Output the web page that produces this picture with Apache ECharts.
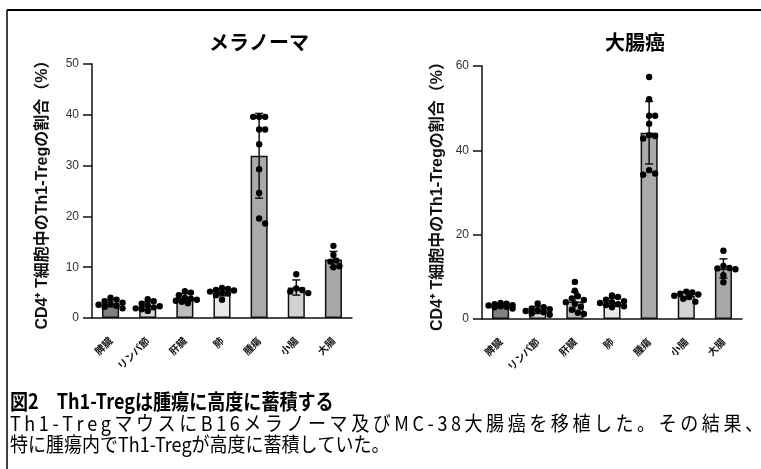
<!DOCTYPE html>
<html><head><meta charset="utf-8">
<script src="https://cdn.jsdelivr.net/npm/echarts@6/dist/echarts.min.js"></script>
<style>html,body{margin:0;padding:0;background:#fff}#c{width:761px;height:469px}</style>
</head><body><div id="c"></div><script>
// ---------- data ----------
const tissues = ['脾臓', 'リンパ節', '肝臓', '肺', '腫瘍', '小腸', '大腸'];
const melanomaTitle = 'メラノーマ';
const colonTitle = '大腸癌';
const yAxisName = 'CD4⁺ T細胞中のTh1-Tregの割合（%）';
const melanomaTicks = [0, 10, 20, 30, 40, 50];
const colonTicks = [0, 20, 40, 60];

// melanoma: individual mice (%)
const melSpleen = [1.9, 2.2, 2.4, 2.6, 2.8, 3.0, 3.3, 3.6, 4.0];
const melLymph  = [1.4, 1.7, 1.9, 2.1, 2.3, 2.5, 2.8, 3.3, 3.7];
const melLiver  = [2.9, 3.2, 3.4, 3.6, 3.8, 4.0, 4.5, 5.0, 5.3];
const melLung   = [3.6, 4.5, 4.8, 5.0, 5.2, 5.4, 5.5, 5.7, 5.9];
const melTumor  = [39.6, 39.6, 39.6, 37.1, 37.1, 34.2, 29.3, 24.6, 19.6, 18.6];
const melSmall  = [8.6, 5.8, 5.5, 5.2, 4.9];
const melLarge  = [14.2, 12.4, 11.3, 11.1, 10.2, 10.0];

// colon cancer: individual mice (%)
const colSpleen = [2.5, 2.8, 2.9, 3.0, 3.2, 3.3, 3.5, 3.6, 3.8];
const colLymph  = [1.0, 1.3, 1.6, 1.9, 2.1, 2.3, 2.5, 2.8, 3.7];
const colLiver  = [8.8, 6.7, 5.4, 4.9, 4.5, 4.0, 3.6, 2.9, 2.2, 1.5, 1.2];
const colLung   = [2.8, 3.0, 3.3, 3.5, 3.8, 4.0, 4.2, 4.6, 5.2, 5.6];
const colTumor  = [57.4, 52.1, 48.2, 48.2, 46.3, 43.6, 43.4, 42.8, 35.3, 34.5, 34.2];
const colSmall  = [4.1, 4.8, 5.2, 5.5, 5.8, 6.0, 6.3, 6.5];
const colLarge  = [16.2, 12.6, 12.0, 11.8, 12.1, 10.4, 8.7];

const captionTitle = '図2　Th1-Tregは腫瘍に高度に蓄積する';
const captionLine1 = 'Th1-TregマウスにB16メラノーマ及びMC-38大腸癌を移植した。その結果、';
const captionLine2 = '特に腫瘍内でTh1-Tregが高度に蓄積していた。';

// ---------- styling ----------
const barColors = ['#808080', '#d6d6d6', '#bdbdbd', '#e8e8e8', '#aaaaaa', '#d2d2d2', '#a8a8a8'];
const LATIN = "'Liberation Sans', 'Noto Sans CJK JP', sans-serif";
const CJK = "'Noto Sans CJK JP', sans-serif";
const CAPTION_FONT = "20px 'Noto Sans CJK JP'";
const CAPTION_SX = 0.9;

const melGroups = [melSpleen, melLymph, melLiver, melLung, melTumor, melSmall, melLarge];
const colGroups = [colSpleen, colLymph, colLiver, colLung, colTumor, colSmall, colLarge];

const mean = a => a.reduce((s, v) => s + v, 0) / a.length;
const sd = a => { const m = mean(a); return Math.sqrt(a.reduce((s, v) => s + (v - m) * (v - m), 0) / (a.length - 1)); };

function swarm(ys) {
  const order = ys.map((y, i) => i).sort((a, b) => ys[a] - ys[b]);
  const off = new Array(ys.length).fill(0);
  const placed = [];
  const minD = 6, step = 3;
  order.forEach(i => {
    let best = 0, bestPen = Infinity;
    for (let k = 0; k < 9; k++) {
      const dx = (k % 2 ? 1 : -1) * Math.ceil(k / 2) * step;
      let pen = 0;
      placed.forEach(j => { const d = Math.hypot(dx - off[j], ys[i] - ys[j]); if (d < minD) pen += minD - d; });
      if (pen < 1e-9) { best = dx; bestPen = 0; break; }
      if (pen < bestPen) { bestPen = pen; best = dx; }
    }
    off[i] = best; placed.push(i);
  });
  return off;
}

function dotRenderer(groups) {
  return function (params, api) {
    const cat = api.value(0), idx = api.value(2);
    const pts = groups[cat];
    const layout = swarm(pts.map(v => api.coord([cat, v])[1]));
    const c = api.coord([cat, pts[idx]]);
    return { type: 'circle', shape: { cx: c[0] + layout[idx], cy: c[1], r: 3.2 }, style: { fill: '#000' } };
  };
}

function errRender(params, api) {
  const x = api.value(0), m = api.value(1), s = api.value(2);
  const top = api.coord([x, m + s]), bot = api.coord([x, Math.max(0, m - s)]);
  const hw = 4, st = { stroke: '#111', lineWidth: 1.5 };
  return { type: 'group', children: [
    { type: 'line', shape: { x1: top[0], y1: top[1], x2: bot[0], y2: bot[1] }, style: st },
    { type: 'line', shape: { x1: top[0] - hw, y1: top[1], x2: top[0] + hw, y2: top[1] }, style: st },
    { type: 'line', shape: { x1: bot[0] - hw, y1: bot[1], x2: bot[0] + hw, y2: bot[1] }, style: st }
  ] };
}

function xAxisFor(gi) {
  return {
    type: 'category', gridIndex: gi, data: tissues,
    axisLine: { lineStyle: { color: '#111', width: 1.5 } },
    axisTick: { alignWithLabel: true, length: 9, lineStyle: { color: '#111', width: 1.5 } },
    axisLabel: { rotate: 45, interval: 0, fontSize: 10, fontWeight: 'bold', color: '#111', margin: 21, fontFamily: CJK }
  };
}
function yAxisFor(gi, ticks, gap) {
  return {
    type: 'value', gridIndex: gi, min: ticks[0], max: ticks[ticks.length - 1], interval: ticks[1] - ticks[0],
    axisLine: { show: true, lineStyle: { color: '#111', width: 1.5 } },
    axisTick: { show: true, length: 9, lineStyle: { color: '#111', width: 1.5 } },
    splitLine: { show: false },
    axisLabel: { fontSize: 12, color: '#333', margin: 13, fontFamily: LATIN },
    name: yAxisName, nameLocation: 'middle', nameGap: gap,
    nameTextStyle: { fontSize: 16, fontWeight: 'bold', color: '#111', fontFamily: LATIN }
  };
}
function seriesFor(gi, groups) {
  const means = groups.map(mean), sds = groups.map(sd);
  const dots = [];
  groups.forEach((g, c) => g.forEach((v, i) => dots.push([c, v, i])));
  return [
    { type: 'bar', xAxisIndex: gi, yAxisIndex: gi, barWidth: '46%', z: 2,
      data: means.map((m, i) => ({ value: m, itemStyle: { color: barColors[i] } })),
      itemStyle: { borderColor: '#111', borderWidth: 1.5 }, silent: true },
    { type: 'custom', xAxisIndex: gi, yAxisIndex: gi, z: 3, silent: true,
      data: means.map((m, i) => [i, m, sds[i]]), renderItem: errRender },
    { type: 'custom', xAxisIndex: gi, yAxisIndex: gi, z: 4, silent: true,
      data: dots, renderItem: dotRenderer(groups) }
  ];
}

// justified caption line: the extra width is spread evenly between all characters
function justifiedLine(text, x0, lastX, y) {
  const ctx = document.createElement('canvas').getContext('2d');
  ctx.font = CAPTION_FONT;
  const chars = Array.from(text);
  const widths = chars.map(t => ctx.measureText(t).width);
  const sumW = widths.slice(0, -1).reduce((s, w) => s + w, 0);
  const span = (lastX - x0) / CAPTION_SX;
  const gap = (span - sumW) / (chars.length - 1);
  let x = 0;
  const children = chars.map((t, i) => {
    const el = { type: 'text', x: x, y: 0, silent: true,
      style: { text: t, align: 'left', verticalAlign: 'middle', font: CAPTION_FONT, fill: '#000' } };
    x += widths[i] + gap;
    return el;
  });
  return { type: 'group', x: x0, y: y, scaleX: CAPTION_SX, children: children };
}

const chart = echarts.init(document.getElementById('c'), null, { renderer: 'canvas' });
chart.setOption({
  backgroundColor: '#fff',
  animation: false,
  grid: [
    { left: 92, top: 64, width: 260, height: 254 },
    { left: 482, top: 66, width: 260, height: 253 }
  ],
  xAxis: [xAxisFor(0), xAxisFor(1)],
  yAxis: [yAxisFor(0, melanomaTicks, 41), yAxisFor(1, colonTicks, 36)],
  series: [...seriesFor(0, melGroups), ...seriesFor(1, colGroups)],
  graphic: [
    { type: 'line', shape: { x1: 7, y1: 10, x2: 761, y2: 10 }, style: { stroke: '#000', lineWidth: 2 } },
    { type: 'line', shape: { x1: 7, y1: 10, x2: 7, y2: 469 }, style: { stroke: '#000', lineWidth: 1.5 } },
    { type: 'text', x: 259, y: 42, style: { text: melanomaTitle, align: 'center', verticalAlign: 'middle', font: "bold 20px 'Noto Sans CJK JP'", fill: '#000' } },
    { type: 'text', x: 635, y: 42, style: { text: colonTitle, align: 'center', verticalAlign: 'middle', font: "bold 20px 'Noto Sans CJK JP'", fill: '#000' } },
    { type: 'text', x: 10, y: 401, scaleX: 0.86, style: { text: captionTitle, align: 'left', verticalAlign: 'middle', font: "bold 21px 'Noto Sans CJK JP'", fill: '#000' } },
    justifiedLine(captionLine1, 10, 745, 423),
    { type: 'text', x: 10, y: 444, scaleX: CAPTION_SX, style: { text: captionLine2, align: 'left', verticalAlign: 'middle', font: CAPTION_FONT, fill: '#000' } }
  ]
});
</script></body></html>
